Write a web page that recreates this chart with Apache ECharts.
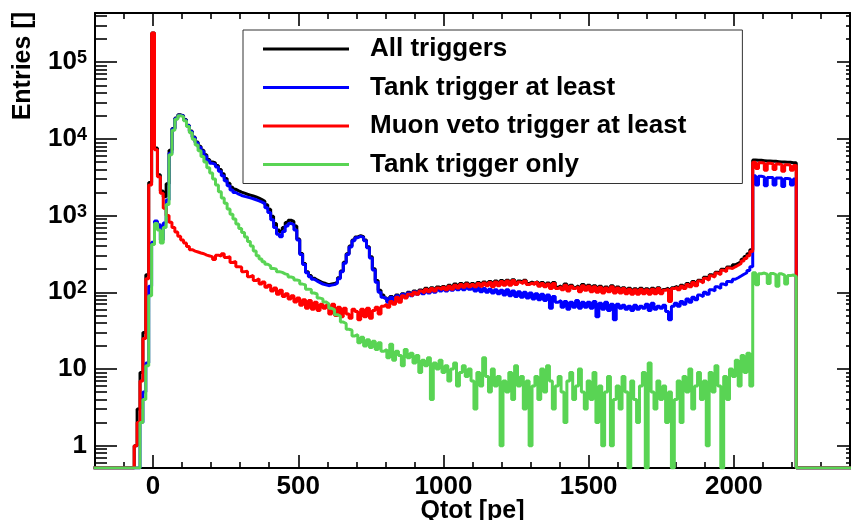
<!DOCTYPE html>
<html><head><meta charset="utf-8">
<script src="https://cdn.jsdelivr.net/npm/echarts@6/dist/echarts.min.js"></script>
<style>html,body{margin:0;padding:0;background:#fff}#chart{width:851px;height:520px}</style>
</head><body><div id="chart"></div>
<script>
const FONT = '"Liberation Sans", Arial, Helvetica, sans-serif';

// ---------- data ----------
const seriesNames = ['All triggers', 'Tank trigger at least', 'Muon veto trigger at least', 'Tank trigger only'];
const seriesColors = ['#000000', '#0000ff', '#ff0000', '#59d454'];

// Histogram binning: 261 bins of 10 pe, first bin [-205,-195)
const BIN_LOW = -205, BIN_WIDTH = 10, N_BINS = 261;
const binEdges = Array.from({length: N_BINS + 1}, (_, i) => BIN_LOW + BIN_WIDTH * i);

// Entries per bin (each line = 100 pe)
const allTriggers = [
0,0,0,0,0,0,0,0,0,0,
0,0,0,0,1,3,9,30,170,2700,
240000,7600,3400,2100,1760,2600,7100,13700,18700,20600,
20100,17900,15100,12700,10600,9100,8000,7100,6200,5400,
5000,4850,4500,4000,3500,3050,2650,2350,2200,2100,
2020,1960,1900,1850,1800,1750,1690,1620,1540,1390,
1210,980,790,650,610,700,810,870,840,730,
495,320,237,186,165,153,145,139,133,130,
126,128,130,136,155,190,247,318,400,482,
528,548,533,482,392,290,203,142,106,92,
84,76,88,78,92,82,96,88,100,93,
104,97,107,101,113,105,115,107,117,111,
119,111,124,113,128,117,130,119,132,122,
130,122,134,124,136,126,138,122,140,126,
142,128,144,128,146,130,140,134,144,130,
136,130,138,124,134,122,132,116,134,116,
122,111,128,107,124,115,122,105,126,109,
124,105,122,103,120,101,117,105,122,101,
117,101,115,99,113,97,111,97,113,99,
111,97,113,99,115,99,109,113,80,115,
120,111,124,115,130,122,138,126,144,136,
157,148,169,163,183,175,200,192,214,210,
228,238,252,270,292,318,360,5300,5250,5250,
5200,5150,5150,5100,5100,5050,5000,5000,4950,4950,
4900,4900,0,0,0,0,0,0,0,0,
0,0,0,0,0,0,0,0,0,0,
0];

const tankAtLeast = [
0,0,0,0,0,0,0,0,0,0,
0,0,0,0,0,0,2,5,12,120,
450,850,760,480,800,1600,6500,13500,18500,20400,
19900,17700,14900,12500,10400,8900,7800,6900,6000,5200,
4800,4650,4300,3800,3300,2850,2450,2150,2000,1900,
1830,1780,1740,1700,1660,1610,1560,1500,1430,1270,
1100,880,700,570,530,620,730,790,760,650,
480,310,230,180,160,148,140,134,128,125,
122,124,126,132,150,185,240,310,390,470,
515,535,520,470,380,280,195,135,100,86,
82,74,86,76,90,80,94,86,98,90,
102,94,104,96,108,98,110,100,112,104,
112,104,116,106,118,108,120,108,118,110,
114,104,116,102,112,100,110,98,108,96,
106,92,108,90,104,88,102,86,100,84,
98,82,96,80,94,78,92,62,88,74,
78,64,76,60,74,64,78,62,74,64,
74,62,76,48,72,60,74,58,70,44,
70,62,68,60,66,58,68,60,66,62,
70,58,72,60,66,62,68,56,44,66,
72,66,76,70,82,74,86,80,92,88,
100,94,108,104,118,112,128,124,138,136,
148,155,163,172,180,192,215,3300,2500,3250,
3200,2450,3150,3150,2500,3100,3100,2400,3050,3000,
2500,3000,0,0,0,0,0,0,0,0,
0,0,0,0,0,0,0,0,0,0,
0];

const muonVetoAtLeast = [
0,0,0,0,0,0,0,0,0,0,
0,0,0,0,1,2,7,25,150,2500,
240000,7200,3200,1950,1250,1000,820,700,610,540,
480,440,395,360,345,335,325,318,305,298,
290,268,305,296,318,285,290,245,252,215,
214,186,188,160,166,142,150,128,136,116,
124,104,114,94,106,88,96,82,90,75,
84,68,80,62,78,60,74,58,70,62,
68,52,70,50,64,48,62,52,46,60,
56,44,60,48,62,46,58,64,52,66,
70,64,76,70,86,74,90,84,94,90,
100,94,104,98,110,102,112,104,114,108,
116,108,120,110,124,114,126,116,128,118,
126,118,130,120,132,122,134,118,136,122,
138,124,140,124,142,126,136,130,140,126,
132,126,134,120,130,118,128,112,130,112,
118,108,124,104,120,112,118,102,122,106,
120,102,118,100,116,98,114,102,118,98,
114,98,112,96,110,94,108,94,110,96,
108,94,110,96,112,96,106,110,76,112,
116,108,120,112,126,118,134,122,140,132,
152,144,164,158,178,170,194,186,208,204,
215,225,238,255,275,300,340,4950,4100,4900,
4850,3900,4800,4750,4000,4700,4650,3800,4600,4550,
3900,4500,0,0,0,0,0,0,0,0,
0,0,0,0,0,0,0,0,0,0,
0];

const tankOnly = [
0,0,0,0,0,0,0,0,0,0,
0,0,0,0,0,0,2,4,11,90,
420,790,650,440,700,1400,6200,13000,18000,20000,
19500,17300,14500,12000,9900,8300,7000,5900,5000,4200,
3600,3000,2500,2050,1700,1450,1220,1040,900,780,
680,600,525,460,400,345,300,272,250,232,
220,205,200,186,182,174,170,158,155,145,
142,128,125,110,109,98,95,84,82,75,
71,62,59,51,49,41,39,33,32,27,
28,22,26,20,24,19,23,18,22,17,
18,14,21,13,17,15,11,18,14,16,
12,15,9,13,11,14,4,12,10,13,
9,11,7,10,12,6,9,11,8,10,
7,3,9,6,14,8,5,10,6,8,
1,7,5,9,4,11,6,8,3,7,
1,6,8,4,10,5,11,7,3,6,
8,5,2,7,9,4,6,10,5,3,
7,4,9,2,6,1,5,8,1,4,
6,3,8,5,0,7,4,2,6,9,
0,12,5,3,7,4,6,2,5,0,
4,7,2,8,5,10,3,6,9,4,
7,1,9,5,11,6,0,8,4,10,
8,13,6,15,9,16,6,180,125,175,
178,172,130,176,170,120,174,168,128,165,
168,160,0,0,0,0,0,0,0,0,
0,0,0,0,0,0,0,0,0,0,
0];

const seriesValues = [allTriggers, tankAtLeast, muonVetoAtLeast, tankOnly];

// Axes
const X_MIN = -200, X_MAX = 2400;
const Y_MIN = 0.512, Y_MAX = 438000;
const xTickLabels = [0, 500, 1000, 1500, 2000];
const xMinorTicks = [-100, 100, 200, 300, 400, 600, 700, 800, 900, 1100, 1200, 1300, 1400,
  1600, 1700, 1800, 1900, 2100, 2200, 2300];
const yTickLabels = [1, 10, 100, 1000, 10000, 100000];
const yMinorTicks = [0.6, 0.7, 0.8, 0.9, 2, 3, 4, 5, 6, 7, 8, 9,
  20, 30, 40, 50, 60, 70, 80, 90, 200, 300, 400, 500, 600, 700, 800, 900,
  2000, 3000, 4000, 5000, 6000, 7000, 8000, 9000,
  20000, 30000, 40000, 50000, 60000, 70000, 80000, 90000, 200000, 300000, 400000];

// ---------- chart ----------
function histPoints(values) {
  // zero-content bins are drawn on the frame bottom, as ROOT does
  const pts = values.map((v, i) => [binEdges[i], v > 0 ? v : Y_MIN]);
  const last = values[values.length - 1];
  pts.push([binEdges[values.length], last > 0 ? last : Y_MIN]);
  return pts;
}

const lineCol = '#000';
function xAxisDef(grid, pos, ticks, len, withLine, withLabels) {
  const a = {
    gridIndex: grid, type: 'value', position: pos, min: X_MIN, max: X_MAX,
    axisLine: {show: withLine, onZero: false, lineStyle: {color: lineCol, width: 2}},
    axisTick: {show: true, inside: true, length: len, customValues: ticks, lineStyle: {color: lineCol, width: 1.6}},
    axisLabel: {show: withLabels, customValues: ticks, margin: 6, color: '#000', fontSize: 26, fontWeight: 'bold', fontFamily: FONT,
      formatter: v => String(v)},
    splitLine: {show: false}, minorTick: {show: false}
  };
  if (withLabels) {
    a.name = 'Qtot [pe]';
    a.nameLocation = 'middle';
    a.nameGap = 31;
    a.nameMoveOverlap = false;
    a.nameTextStyle = {color: '#000', fontSize: 25, fontWeight: 'bold', fontFamily: FONT};
  }
  return a;
}
function yAxisDef(grid, pos, ticks, len, withLine, withLabels) {
  return {
    gridIndex: grid, type: 'log', logBase: 10, position: pos, min: Y_MIN, max: Y_MAX,
    axisLine: {show: withLine, onZero: false, lineStyle: {color: lineCol, width: 2}},
    axisTick: {show: true, inside: true, length: len, customValues: ticks, lineStyle: {color: lineCol, width: 1.6}},
    axisLabel: {
      show: withLabels, customValues: ticks, margin: 8, color: '#000',
      fontSize: 26, fontWeight: 'bold', fontFamily: FONT,
      formatter: v => {
        const e = Math.round(Math.log10(v));
        return e >= 2 ? '{b|10}{s|' + e + '}' : '{p|' + Math.round(v) + '}';
      },
      rich: {
        b: {fontSize: 26, fontWeight: 'bold', fontFamily: FONT, color: '#000', lineHeight: 26, verticalAlign: 'bottom'},
        s: {fontSize: 18, fontWeight: 'bold', fontFamily: FONT, color: '#000', lineHeight: 18, padding: [0, 0, 13, 0], verticalAlign: 'top'},
        p: {fontSize: 26, fontWeight: 'bold', fontFamily: FONT, color: '#000', lineHeight: 26}
      }
    },
    splitLine: {show: false}, minorTick: {show: false}
  };
}

const gridRect = {left: 95, right: 1, top: 13, bottom: 52, containLabel: false, outerBoundsMode: 'none'};

const chart = echarts.init(document.getElementById('chart'), null, {renderer: 'canvas', width: 851, height: 520});
chart.setOption({
  animation: false,
  backgroundColor: '#ffffff',
  grid: [Object.assign({}, gridRect), Object.assign({}, gridRect)],
  xAxis: [
    xAxisDef(0, 'bottom', xTickLabels, 13, true, true),
    xAxisDef(0, 'top', xTickLabels, 13, true, false),
    xAxisDef(1, 'bottom', xMinorTicks, 6, false, false),
    xAxisDef(1, 'top', xMinorTicks, 6, false, false)
  ],
  yAxis: [
    yAxisDef(0, 'left', yTickLabels, 22, true, true),
    yAxisDef(0, 'right', yTickLabels, 13, true, false),
    yAxisDef(1, 'left', yMinorTicks, 12, false, false),
    yAxisDef(1, 'right', yMinorTicks, 4, false, false)
  ],
  legend: {
    data: seriesNames, orient: 'vertical', left: 243, top: 30,
    padding: [6, 56, 6, 20], itemWidth: 86, itemHeight: 3, itemGap: 12.5, icon: 'rect',
    backgroundColor: '#ffffff', borderColor: '#333333', borderWidth: 1, borderRadius: 0,
    selectedMode: false, itemStyle: {borderWidth: 0},
    textStyle: {fontSize: 26, fontWeight: 'bold', fontFamily: FONT, color: '#000', lineHeight: 26, padding: [0, 0, 0, 16]}
  },
  graphic: [{
    type: 'text', x: 23, y: 12, rotation: Math.PI / 2, silent: true,
    style: {text: 'Entries []', font: 'bold 25px ' + FONT, fill: '#000',
      align: 'right', verticalAlign: 'middle', textAlign: 'right', textVerticalAlign: 'middle'}
  }],
  series: seriesNames.map((name, k) => ({
    name: name, type: 'line', xAxisIndex: 0, yAxisIndex: 0, step: 'end',
    showSymbol: false, symbol: 'none', silent: true, clip: true,
    color: seriesColors[k],
    lineStyle: {color: seriesColors[k], width: 3},
    emphasis: {disabled: true},
    data: histPoints(seriesValues[k])
  }))
});
</script></body></html>
